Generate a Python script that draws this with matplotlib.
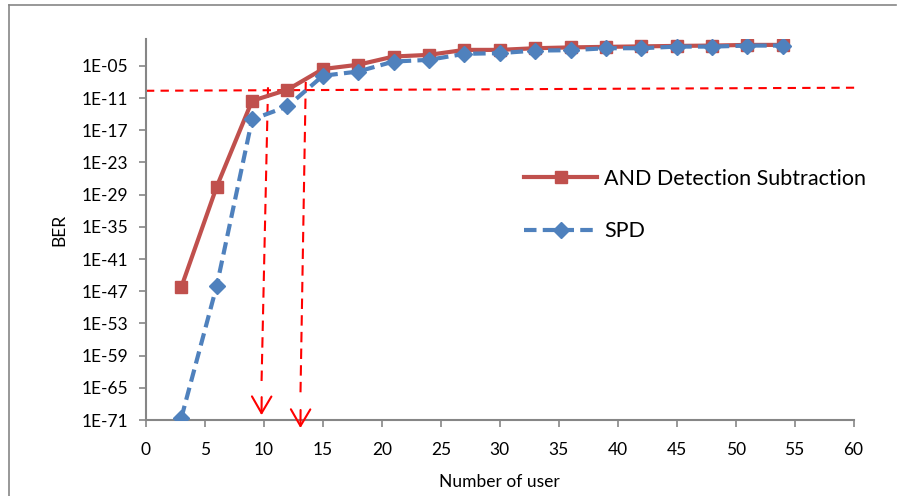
import matplotlib
matplotlib.use('Agg')
import matplotlib.pyplot as plt
import numpy as np
from matplotlib.lines import Line2D
from matplotlib.ticker import FixedLocator, FuncFormatter, NullLocator

plt.rcParams['font.family'] = ['Lato', 'DejaVu Sans']

users = [3, 6, 9, 12, 15, 18, 21, 24, 27, 30, 33, 36, 39, 42, 45, 48, 51, 54]
ber_and = [6e-47, 3e-28, 3e-12, 3.5e-10, 2.5e-06, 1.6e-05, 5.4e-04, 1.1e-03, 9.3e-03,
           9.3e-03, 1.9e-02, 2.7e-02, 3.4e-02, 4.2e-02, 5.1e-02, 5.9e-02, 7.9e-02, 7.9e-02]
ber_spd = [2.5e-71, 1e-46, 1e-15, 2.8e-13, 1.4e-07, 8.7e-07, 6.3e-05, 1.3e-04, 1.7e-03,
           2.3e-03, 6.9e-03, 8.1e-03, 1.9e-02, 1.9e-02, 3.8e-02, 3.8e-02, 5.9e-02, 5.9e-02]

red = '#C0504D'
blue = '#4F81BD'
grey = '#868686'

fig = plt.figure(figsize=(9.06, 4.96), dpi=100)
ax = fig.add_axes([0.1611, 0.1532, 0.7810, 0.7682])

ax.plot(users, ber_and, color=red, lw=3, marker='s', ms=9, mec=red, mfc=red,
        label='AND Detection Subtraction', zorder=3)
ax.plot(users, ber_spd, color=blue, lw=3, marker='D', ms=8, mec=blue, mfc=blue,
        dashes=(3, 1.5), label='SPD', zorder=4)

# threshold guide + arrows down to the x axis
ax.plot([0, 60.05], [10**-9.65, 10**-9.08], color='red', lw=1.5, dashes=(4, 3),
        zorder=2, clip_on=False)
for xt, yt, xb, yb in [(10.35, 1e-9, 9.8, 10**-70.1), (13.55, 1e-8, 13.1, 10**-72.5)]:
    ax.plot([xt, xb], [yt, yb * 10**6], color='red', lw=1.5, dashes=(5, 3),
            zorder=2, clip_on=False)
    ax.annotate('', xy=(xb, yb), xytext=(0.1, 13), textcoords='offset points',
                arrowprops=dict(arrowstyle='->,head_length=0.6,head_width=0.35',
                                color='red', lw=1.5, shrinkA=0, shrinkB=0,
                                mutation_scale=20),
                annotation_clip=False)

ax.set_yscale('log')
ax.set_ylim(1e-71, 1e0)
ax.set_xlim(0, 60)
ax.yaxis.set_major_locator(FixedLocator(10.0 ** np.arange(-71, 0, 6)))
ax.yaxis.set_minor_locator(NullLocator())
ax.yaxis.set_major_formatter(FuncFormatter(
    lambda v, p: '1E%+03d' % int(round(np.log10(v)))))
ax.set_xticks(np.arange(0, 61, 5))

for s in ['top', 'right']:
    ax.spines[s].set_visible(False)
for s in ['left', 'bottom']:
    ax.spines[s].set_color(grey)
    ax.spines[s].set_linewidth(1.5)
ax.tick_params(axis='both', colors=grey, labelcolor='black', labelsize=12.5,
               length=5, width=1.2, direction='out')
ax.tick_params(axis='y', pad=8)
ax.tick_params(axis='x', pad=11)

ax.set_xlabel('Number of user', fontsize=12.5, labelpad=11)
ax.set_ylabel('BER', fontsize=12.5, labelpad=10)

leg = ax.legend(loc='upper left', bbox_to_anchor=(0.5345, 0.659), frameon=False,
                fontsize=15.5, handlelength=3.4, labelspacing=1.5, handletextpad=0.3,
                borderpad=0, borderaxespad=0)

# outer chart frame (Excel style)
fig.add_artist(Line2D([0.0099, 0.989], [0.9899, 0.9899], color=grey, lw=1.2))
fig.add_artist(Line2D([0.0099, 0.0099], [0.0, 0.9899], color=grey, lw=1.2))

fig.savefig('out.png', dpi=100)
